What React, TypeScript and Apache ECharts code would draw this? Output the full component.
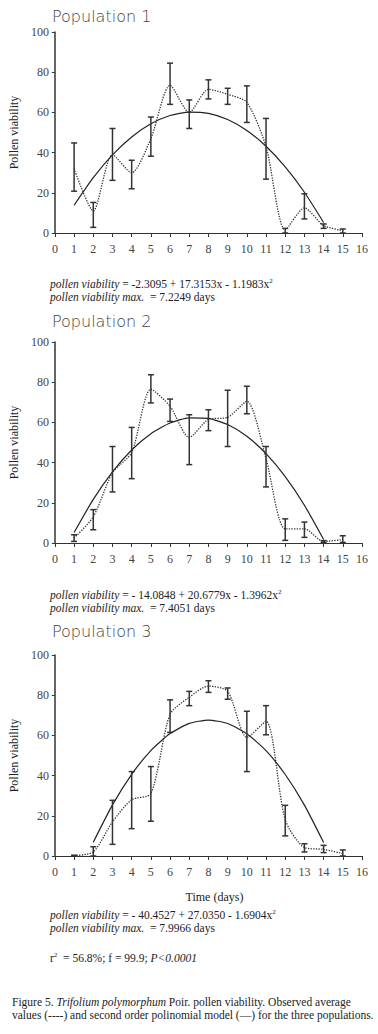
import React, { useEffect, useRef } from "react";
import * as echarts from "echarts";

const days = [1, 2, 3, 4, 5, 6, 7, 8, 9, 10, 11, 12, 13, 14, 15];
const xTicks = [0, 1, 2, 3, 4, 5, 6, 7, 8, 9, 10, 11, 12, 13, 14, 15, 16];
const yTicks = [0, 20, 40, 60, 80, 100];

const pop1Mean = [32, 11, 39, 30, 47, 73.5, 60, 71.5, 69, 65, 43, 1.5, 12.5, 3.7, 1.2];
const pop1Low = [20.8, 2.8, 26.2, 22, 38.2, 64, 52, 66.7, 64, 55, 26.8, 0, 7, 2.3, 0];
const pop1High = [44.8, 15.2, 52, 36.2, 57.7, 84.5, 66.2, 76.2, 72, 73.2, 57, 2.3, 19.5, 4.5, 2];
const pop1FitDays = [1, 2, 3, 4, 5, 6, 7, 8, 9, 10, 11, 12, 13, 14];
const pop1Fit = [13.81, 27.53, 38.85, 47.78, 54.31, 58.44, 60.18, 59.52, 56.47, 51.01, 43.16, 32.92, 20.28, 5.24];

const pop2Mean = [2.5, 13, 35, 45, 76.5, 68, 52.5, 61.5, 62.5, 70.5, 42, 7, 7, 0.8, 1.7];
const pop2Low = [0.8, 6.6, 25.4, 32, 69.7, 60.5, 39, 55.9, 48, 64.3, 27.9, 1.3, 2.8, 0.3, 0.3];
const pop2High = [4.1, 16.6, 48, 57.5, 83.7, 71.6, 63.8, 66.3, 76, 78, 48, 12, 10.4, 1.2, 3.6];
const pop2FitDays = [1, 2, 3, 4, 5, 6, 7, 8, 9, 10, 11, 12, 13, 14];
const pop2Fit = [5.2, 21.69, 35.38, 46.29, 54.4, 59.72, 62.25, 61.98, 58.92, 53.07, 44.43, 33.0, 18.77, 1.75];

const pop3Mean = [0.2, 2, 17, 28, 31, 70.5, 79, 84.5, 82, 59, 67, 18, 4.2, 3.3, 1.2];
const pop3Low = [0, 0, 5.8, 13.6, 17.3, 61.5, 74.8, 81.4, 78, 42, 60.3, 10, 2, 1.7, 0];
const pop3High = [0.4, 4.6, 27.7, 42, 44.5, 77.7, 81.9, 87.2, 83.6, 72, 74.8, 25.2, 6.1, 5.3, 3];
const pop3FitDays = [2, 3, 4, 5, 6, 7, 8, 9, 10, 11, 12, 13, 14];
const pop3Fit = [6.86, 25.44, 40.64, 52.46, 60.9, 65.96, 67.64, 65.94, 60.86, 52.39, 40.55, 25.32, 6.72];

const titles = ["Population 1", "Population 2", "Population 3"];
const equations = [
  " = -2.3095 + 17.3153x - 1.1983x",
  " = - 14.0848 + 20.6779x - 1.3962x",
  " = - 40.4527 + 27.0350 - 1.6904x",
];
const maxima = ["  = 7.2249 days", "  = 7.4051 days", "  = 7.9966 days"];

const SERIF = "Liberation Serif";
const SANS = "DejaVu Sans";

const panels = [
  { mean: pop1Mean, low: pop1Low, high: pop1High, fitDays: pop1FitDays, fit: pop1Fit },
  { mean: pop2Mean, low: pop2Low, high: pop2High, fitDays: pop2FitDays, fit: pop2Fit },
  { mean: pop3Mean, low: pop3Low, high: pop3High, fitDays: pop3FitDays, fit: pop3Fit },
];

const gridTops = [32, 342, 655];
const titleYs = [17, 322, 632];
const eqYs = [285, 596, 916];

const FS = 11.5;
const richBase = {
  n: { fontFamily: SERIF, fontSize: FS, fill: "#222", lineHeight: 13 },
  i: { fontFamily: SERIF, fontSize: FS, fontStyle: "italic", fill: "#222", lineHeight: 13 },
  s: { fontFamily: SERIF, fontSize: 7, fill: "#222", verticalAlign: "top", lineHeight: 13 },
};

export default function App() {
  const ref = useRef<HTMLDivElement>(null);
  useEffect(() => {
    if (!ref.current) return;
    const chart = echarts.init(ref.current, null, { renderer: "svg" });

    const grids = gridTops.map((t) => ({ left: 50, top: t, width: 312, height: 201 }));
    const xAxes = gridTops.map((_, i) => ({
      type: "value",
      gridIndex: i,
      min: xTicks[0],
      max: xTicks[xTicks.length - 1],
      interval: 1,
      axisLine: { show: true, lineStyle: { color: "#333", width: 1.2 } },
      axisTick: { show: true, inside: false, length: 4, lineStyle: { color: "#333" } },
      axisLabel: { margin: 10, fontFamily: SERIF, fontSize: 12, color: "#444" },
      splitLine: { show: false },
      name: i === 2 ? "Time (days)" : "",
      nameLocation: "middle",
      nameGap: 35,
      nameTextStyle: { fontFamily: SERIF, fontSize: 12, color: "#222", padding: [0, 0, 0, 12] },
    }));
    const yAxes = gridTops.map((_, i) => ({
      type: "value",
      gridIndex: i,
      min: yTicks[0],
      max: yTicks[yTicks.length - 1],
      interval: 20,
      axisLine: { show: true, lineStyle: { color: "#333", width: 1.5 } },
      axisTick: { show: true, inside: false, length: 3, lineStyle: { color: "#333" } },
      axisLabel: { margin: 6, fontFamily: SERIF, fontSize: 12, color: "#444" },
      splitLine: { show: false },
      name: "Pollen viability",
      nameLocation: "middle",
      nameRotate: 90,
      nameGap: 27,
      nameTextStyle: { fontFamily: SERIF, fontSize: 12, color: "#222" },
    }));

    const series: any[] = [];
    panels.forEach((p, i) => {
      series.push({
        type: "line",
        xAxisIndex: i,
        yAxisIndex: i,
        data: days.map((d, k) => [d, p.mean[k]]),
        smooth: 0.25,
        symbol: "none",
        lineStyle: { type: "dotted", color: "#333", width: 1.3 },
        z: 3,
      });
      series.push({
        type: "line",
        xAxisIndex: i,
        yAxisIndex: i,
        data: p.fitDays.map((d, k) => [d, p.fit[k]]),
        smooth: 0.2,
        symbol: "none",
        lineStyle: { type: "solid", color: "#222", width: 1.2 },
        z: 3,
      });
      series.push({
        type: "custom",
        xAxisIndex: i,
        yAxisIndex: i,
        coordinateSystem: "cartesian2d",
        encode: { x: 0, y: [1, 2] },
        data: days.map((d, k) => [d, p.low[k], p.high[k]]),
        renderItem: (params: any, api: any) => {
          const x = api.value(0);
          const lo = api.coord([x, api.value(1)]);
          const hi = api.coord([x, api.value(2)]);
          const w = 3;
          const st = { stroke: "#333", lineWidth: 1.5 };
          return {
            type: "group",
            children: [
              { type: "line", shape: { x1: lo[0], y1: lo[1], x2: hi[0], y2: hi[1] }, style: st },
              { type: "line", shape: { x1: lo[0] - w, y1: lo[1], x2: lo[0] + w, y2: lo[1] }, style: st },
              { type: "line", shape: { x1: hi[0] - w, y1: hi[1], x2: hi[0] + w, y2: hi[1] }, style: st },
            ],
          };
        },
        z: 4,
      });
    });

    const graphic: any[] = [];
    titles.forEach((t, i) => {
      graphic.push({
        type: "text",
        left: 52,
        top: titleYs[i] - 9,
        style: { text: t, fontFamily: SANS, fontSize: 16, fontWeight: 200, fill: "#444" },
      });
      graphic.push({
        type: "text",
        left: 50,
        top: eqYs[i] - 8,
        style: {
          text: `{i|pollen viability}{n|${equations[i]}}{s|2}\n{i|pollen viability max.}{n|${maxima[i]}}`,
          fontFamily: SERIF,
          fontSize: FS,
          fill: "#222",
          lineHeight: 13,
          rich: richBase,
        },
      });
    });
    graphic.push({
      type: "text",
      left: 50,
      top: 951,
      style: {
        text: "{n|r}{s|2}{n|  = 56.8%; f = 99.9; }{i|P<0.0001}",
        fontFamily: SERIF,
        fontSize: FS,
        fill: "#222",
        rich: richBase,
      },
    });
    graphic.push({
      type: "text",
      left: 12,
      top: 995,
      style: {
        text:
          "{n|Figure 5. }{i|Trifolium polymorphum}{n| Poir. pollen viability. Observed average}\n{n|values (----) and second order polinomial model (—) for the three populations.}",
        fontFamily: SERIF,
        fontSize: FS,
        fill: "#222",
        lineHeight: 13.5,
        rich: {
          n: { fontFamily: SERIF, fontSize: FS, fill: "#222", lineHeight: 13.5 },
          i: { fontFamily: SERIF, fontSize: FS, fontStyle: "italic", fill: "#222", lineHeight: 13.5 },
        },
      },
    });

    chart.setOption({
      animation: false,
      backgroundColor: "#fff",
      grid: grids,
      xAxis: xAxes,
      yAxis: yAxes,
      series,
      graphic,
    });
    return () => chart.dispose();
  }, []);
  return (
    <div
      ref={ref}
      style={{ position: "absolute", left: 0, top: 0, width: 378, height: 1034, background: "#fff" }}
    />
  );
}
